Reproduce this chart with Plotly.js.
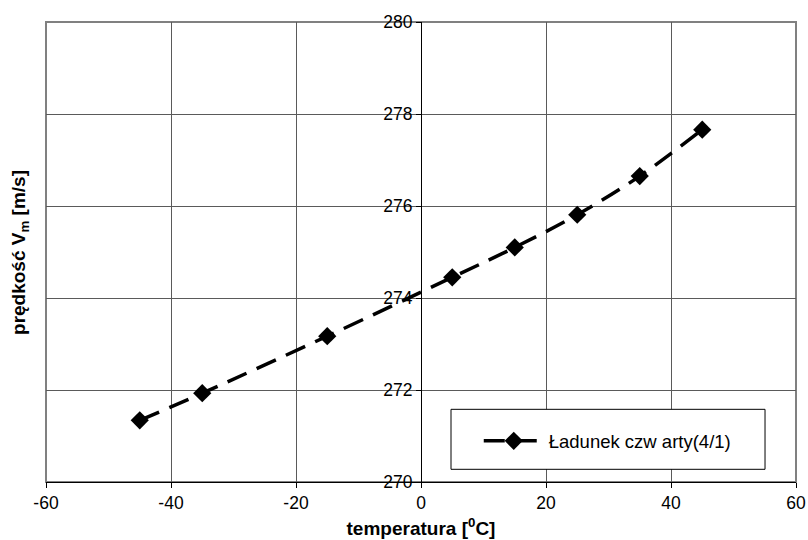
<!DOCTYPE html>
<html><head><meta charset="utf-8">
<script src="https://cdn.plot.ly/plotly-3.0.1.min.js"></script>
<style>html,body{margin:0;padding:0;background:#fff}#chart{width:808px;height:540px}</style>
</head><body><div id="chart"></div>
<script>
const temperature = [-45, -35, -15, 5, 15, 25, 35, 45];
const velocity = [271.34, 271.93, 273.17, 274.45, 275.10, 275.81, 276.65, 277.66];
const xTickValues = [-60, -40, -20, 0, 20, 40, 60];
const yTickValues = [270, 272, 274, 276, 278, 280];
const seriesName = 'Ładunek czw arty(4/1)';
const xTitle = '<b>temperatura [<sup>0</sup>C]</b>';
const yTitle = '<b>prędkość V<sub>m</sub> [m/s]</b>';

const FONT = '"Liberation Sans", Arial, sans-serif';

const trace = {
  x: temperature,
  y: velocity,
  name: seriesName,
  type: 'scatter',
  mode: 'lines+markers',
  line: {color: '#000', width: 3.5, dash: '21px,11px', shape: 'spline', smoothing: 1},
  marker: {symbol: 'diamond', size: 14, color: '#000'},
  cliponaxis: false
};

const layout = {
  width: 808, height: 540,
  margin: {l: 46, r: 12, t: 22, b: 58},
  paper_bgcolor: '#fff', plot_bgcolor: '#fff',
  font: {family: FONT, size: 17, color: '#000'},
  showlegend: true,
  xaxis: {
    range: [-60, 60], tickvals: xTickValues, ticktext: xTickValues.map(String),
    showgrid: true, gridcolor: '#5a5a5a', gridwidth: 1,
    zeroline: false, showline: true, linecolor: '#000', linewidth: 1,
    ticks: 'outside', ticklen: 5, tickcolor: '#000', tickwidth: 1,
    tickfont: {family: FONT, size: 17.5, color: '#000'},
    title: {text: xTitle, font: {family: FONT, size: 19, color: '#000'}, standoff: 9},
    fixedrange: true
  },
  yaxis: {
    range: [270, 280], tickvals: yTickValues, ticktext: yTickValues.map(String),
    anchor: 'free', position: 0.5,
    showgrid: true, gridcolor: '#5a5a5a', gridwidth: 1,
    zeroline: false, showline: true, linecolor: '#000', linewidth: 1,
    ticks: 'outside', ticklen: 5, tickcolor: '#000', tickwidth: 1,
    tickfont: {family: FONT, size: 17.5, color: '#000'},
    fixedrange: true
  },
  legend: {
    x: 0.577, y: 0.0885, xanchor: 'left', yanchor: 'middle',
    bgcolor: 'rgba(0,0,0,0)', borderwidth: 0,
    font: {family: FONT, size: 18.5, color: '#000'},
    itemwidth: 60
  },
  shapes: [
    {type: 'rect', xref: 'paper', yref: 'paper', x0: 0, x1: 1, y0: 0, y1: 1,
     line: {color: '#808080', width: 2}, layer: 'below'},
    {type: 'rect', xref: 'paper', yref: 'paper', x0: 0.54, x1: 0.9587, y0: 0.0276, y1: 0.158,
     line: {color: '#000', width: 1}, fillcolor: '#fff', layer: 'above'}
  ],
  annotations: [
    {text: yTitle, xref: 'paper', yref: 'paper', x: -0.0347, y: 0.5, textangle: -90,
     showarrow: false, xanchor: 'center', yanchor: 'middle',
     font: {family: FONT, size: 19, color: '#000'}}
  ]
};

Plotly.newPlot('chart', [trace], layout, {displayModeBar: false, staticPlot: true});
</script>
</body></html>
